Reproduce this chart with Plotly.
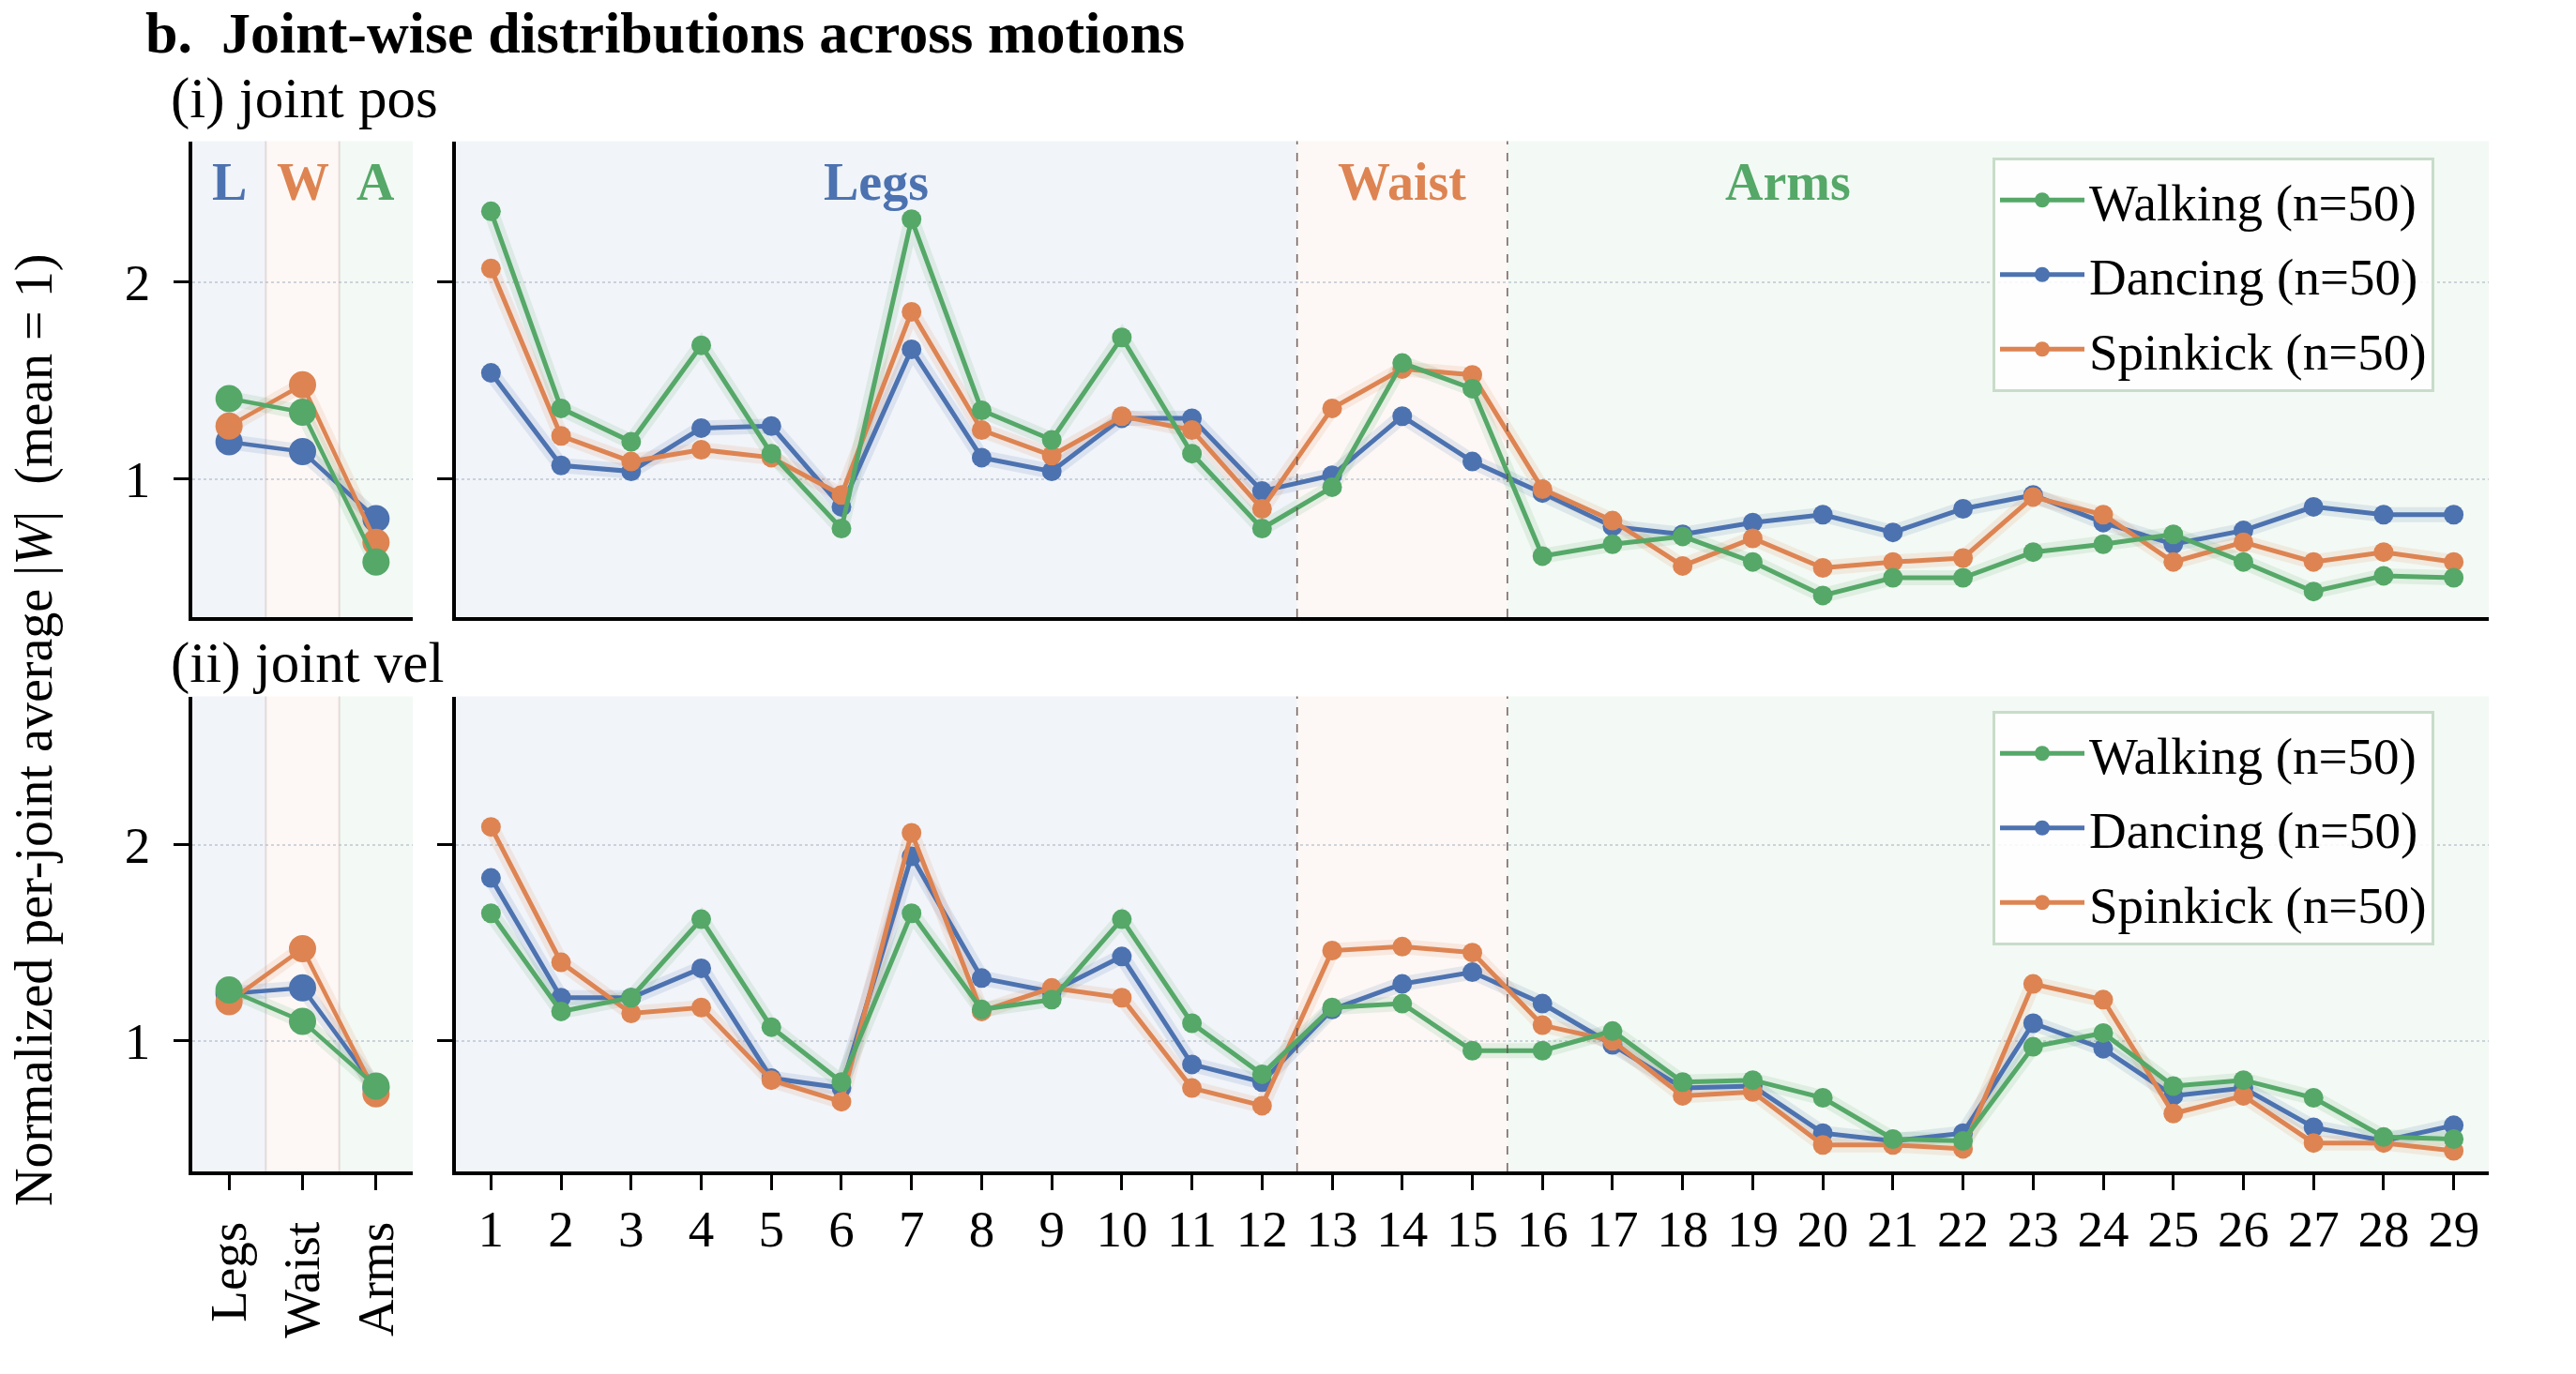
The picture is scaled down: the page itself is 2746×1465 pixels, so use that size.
import plotly.graph_objects as go

# ---------------- data ----------------
joints = list(range(1, 30))
groups = ["Legs", "Waist", "Arms"]
series_names = ["Walking (n=50)", "Dancing (n=50)", "Spinkick (n=50)"]

pos_walking = [2.36, 1.36, 1.19, 1.68, 1.13, 0.75, 2.32, 1.35, 1.20, 1.72, 1.13, 0.75,
               0.96, 1.59, 1.46,
               0.61, 0.67, 0.71, 0.58, 0.41, 0.50, 0.50, 0.63, 0.67, 0.72, 0.58, 0.43, 0.51, 0.50]
pos_dancing = [1.54, 1.07, 1.04, 1.26, 1.27, 0.86, 1.66, 1.11, 1.04, 1.31, 1.31, 0.94,
               1.02, 1.32, 1.09,
               0.93, 0.76, 0.72, 0.78, 0.82, 0.73, 0.85, 0.92, 0.78, 0.67, 0.74, 0.86, 0.82, 0.82]
pos_spinkick = [2.07, 1.22, 1.09, 1.15, 1.11, 0.92, 1.85, 1.25, 1.12, 1.32, 1.25, 0.85,
                1.36, 1.56, 1.53,
                0.95, 0.79, 0.56, 0.70, 0.55, 0.58, 0.60, 0.91, 0.82, 0.58, 0.68, 0.58, 0.63, 0.58]

vel_walking = [1.65, 1.15, 1.22, 1.62, 1.07, 0.79, 1.65, 1.16, 1.21, 1.62, 1.09, 0.83,
               1.17, 1.19, 0.95,
               0.95, 1.05, 0.79, 0.80, 0.71, 0.50, 0.49, 0.97, 1.04, 0.77, 0.80, 0.71, 0.51, 0.50]
vel_dancing = [1.83, 1.22, 1.22, 1.37, 0.81, 0.76, 1.94, 1.32, 1.25, 1.43, 0.88, 0.79,
               1.16, 1.29, 1.35,
               1.19, 0.98, 0.76, 0.77, 0.53, 0.49, 0.53, 1.09, 0.96, 0.72, 0.76, 0.56, 0.49, 0.57]
vel_spinkick = [2.09, 1.40, 1.14, 1.17, 0.80, 0.69, 2.06, 1.15, 1.27, 1.22, 0.76, 0.67,
                1.46, 1.48, 1.45,
                1.08, 1.00, 0.72, 0.74, 0.47, 0.47, 0.45, 1.29, 1.21, 0.63, 0.72, 0.48, 0.48, 0.44]

pos_group_walking = [1.41, 1.34, 0.58]
pos_group_dancing = [1.19, 1.14, 0.80]
pos_group_spinkick = [1.27, 1.48, 0.68]
vel_group_walking = [1.26, 1.10, 0.77]
vel_group_dancing = [1.24, 1.27, 0.76]
vel_group_spinkick = [1.20, 1.47, 0.73]

# joint ranges of body regions (Legs 1-12, Waist 13-15, Arms 16-29)
region_bounds = [0.5, 12.5, 15.5, 29.5]

# ---------------- style ----------------
FONT = "Liberation Serif"
C_GREEN = "#55A868"
C_BLUE = "#4C72B0"
C_ORANGE = "#DD8452"
region_fill = ["rgba(76,114,176,0.08)", "rgba(221,132,82,0.06)", "rgba(85,168,104,0.07)"]
region_text = [C_BLUE, C_ORANGE, C_GREEN]

W, H = 2746, 1465
XD_SMALL = [205 / W, 440 / W]
XD_MAIN = [486 / W, 2653 / W]
YD_TOP = [(H - 658) / H, (H - 150.6) / H]
YD_BOT = [(H - 1249) / H, (H - 742.5) / H]
YR_TOP = [0.30, 2.716]
YR_BOT = [0.335, 2.755]

fig = go.Figure()

# plotting order: Dancing, Spinkick, Walking (Walking on top); legend order via legendrank
panels = [
    ("x", "y", True, [pos_group_dancing, pos_group_spinkick, pos_group_walking], None),
    ("x2", "y2", False, [pos_dancing, pos_spinkick, pos_walking], "legend"),
    ("x3", "y3", True, [vel_group_dancing, vel_group_spinkick, vel_group_walking], None),
    ("x4", "y4", False, [vel_dancing, vel_spinkick, vel_walking], "legend2"),
]
colors = [C_BLUE, C_ORANGE, C_GREEN]
names = [series_names[1], series_names[2], series_names[0]]
ranks = [2, 3, 1]

for xa, ya, is_group, series, leg in panels:
    xs = [0, 1, 2] if is_group else joints
    msize = 29 if is_group else 21
    lw = 4.5 if is_group else 5
    # faint variability band underneath
    for vals, col in zip(series, colors):
        fig.add_trace(go.Scatter(
            x=xs, y=vals, xaxis=xa, yaxis=ya, mode="lines",
            line=dict(color=col, width=16), opacity=0.13,
            showlegend=False, hoverinfo="skip"))
    for vals, col, nm, rk in zip(series, colors, names, ranks):
        if leg is not None:
            kw = dict(showlegend=True, legend=leg, legendrank=rk, legendgroup=leg + nm)
        else:
            kw = dict(showlegend=False)
        fig.add_trace(go.Scatter(
            x=xs, y=vals, xaxis=xa, yaxis=ya, mode="lines+markers", name=nm,
            line=dict(color=col, width=lw),
            marker=dict(color=col, size=msize, line=dict(width=0)),
            **kw))

shapes = []
# region shading
for xa, ya in [("x", "y"), ("x3", "y3")]:
    for i in range(3):
        shapes.append(dict(type="rect", xref=xa, yref=ya + " domain",
                           x0=i - 0.5, x1=i + 0.5, y0=0, y1=1,
                           fillcolor=region_fill[i], line=dict(width=0), layer="below"))
    for b in [0.5, 1.5]:
        shapes.append(dict(type="line", xref=xa, yref=ya + " domain", x0=b, x1=b, y0=0, y1=1,
                           line=dict(color="rgba(190,170,170,0.35)", width=2), layer="below"))
for xa, ya in [("x2", "y2"), ("x4", "y4")]:
    for i in range(3):
        shapes.append(dict(type="rect", xref=xa, yref=ya + " domain",
                           x0=region_bounds[i], x1=region_bounds[i + 1], y0=0, y1=1,
                           fillcolor=region_fill[i], line=dict(width=0), layer="below"))
    for b in region_bounds[1:3]:
        shapes.append(dict(type="line", xref=xa, yref=ya + " domain", x0=b, x1=b, y0=0, y1=1,
                           line=dict(color="rgba(100,80,75,0.85)", width=1.6, dash="dash"),
                           layer="above"))

annotations = []
# region labels
for i, g in enumerate(groups):
    annotations.append(dict(x=i, y=2.51, xref="x", yref="y", text="<b>%s</b>" % g[0],
                            showarrow=False, font=dict(family=FONT, size=56, color=region_text[i])))
label_x = [6.5, 14.0, 19.5]
for i, g in enumerate(groups):
    annotations.append(dict(x=label_x[i], y=2.51, xref="x2", yref="y2", text="<b>%s</b>" % g,
                            showarrow=False, font=dict(family=FONT, size=56, color=region_text[i])))

annotations += [
    dict(x=153 / W, y=1 - 35 / H, xref="paper", yref="paper", xanchor="left", yanchor="middle",
         text="<b>b.  Joint-wise distributions across motions</b>", showarrow=False,
         font=dict(family=FONT, size=62, color="black")),
    dict(x=180 / W, y=1 - 105 / H, xref="paper", yref="paper", xanchor="left", yanchor="middle",
         text="(i) joint pos", showarrow=False, font=dict(family=FONT, size=61, color="black")),
    dict(x=180 / W, y=1 - 707 / H, xref="paper", yref="paper", xanchor="left", yanchor="middle",
         text="(ii) joint vel", showarrow=False, font=dict(family=FONT, size=61, color="black")),
    dict(x=36 / W, y=1 - 779 / H, xref="paper", yref="paper", xanchor="center", yanchor="middle",
         text="Normalized per-joint average |<i>W</i>|  (mean = 1)", textangle=-90, showarrow=False,
         font=dict(family=FONT, size=56, color="black")),
]

axis_common = dict(showline=True, linecolor="black", linewidth=3.5, zeroline=False,
                   tickfont=dict(family=FONT, size=55, color="black"), tickcolor="black")
y_common = dict(axis_common, tickvals=[1, 2], ticks="outside", ticklen=16, tickwidth=3,
                showgrid=True, gridcolor="rgba(170,180,195,0.55)", gridwidth=1.5, griddash="dot",
                ticklabelstandoff=14)

legend_common = dict(font=dict(family=FONT, size=55, color="black"),
                     bgcolor="rgba(255,255,255,0.85)", bordercolor="#c8dcca", borderwidth=3,
                     xanchor="left", yanchor="top", x=2124 / W, itemwidth=90,
                     tracegroupgap=5)

fig.update_layout(
    width=W, height=H, margin=dict(l=0, r=0, t=0, b=0),
    paper_bgcolor="white", plot_bgcolor="rgba(0,0,0,0)",
    showlegend=True,
    xaxis=dict(axis_common, domain=XD_SMALL, anchor="y", range=[-0.5, 2.5],
               showticklabels=False, ticks="", showgrid=False),
    yaxis=dict(y_common, domain=YD_TOP, anchor="x", range=YR_TOP),
    xaxis2=dict(axis_common, domain=XD_MAIN, anchor="y2", range=[0.5, 29.5],
                showticklabels=False, ticks="", showgrid=False),
    yaxis2=dict(y_common, domain=YD_TOP, anchor="x2", range=YR_TOP, showticklabels=False),
    xaxis3=dict(axis_common, domain=XD_SMALL, anchor="y3", range=[-0.5, 2.5],
                tickvals=[0, 1, 2], ticktext=groups, tickangle=-90, ticks="outside",
                ticklen=16, tickwidth=3, showgrid=False, ticklabelstandoff=12),
    yaxis3=dict(y_common, domain=YD_BOT, anchor="x3", range=YR_BOT),
    xaxis4=dict(axis_common, domain=XD_MAIN, anchor="y4", range=[0.5, 29.5],
                tickvals=joints, ticks="outside", ticklen=16, tickwidth=3, showgrid=False,
                ticklabelstandoff=-6),
    yaxis4=dict(y_common, domain=YD_BOT, anchor="x4", range=YR_BOT, showticklabels=False),
    legend=dict(legend_common, y=1 - 168 / H),
    legend2=dict(legend_common, y=1 - 758 / H),
    shapes=shapes,
    annotations=annotations,
)

fig.write_html("out.html")
